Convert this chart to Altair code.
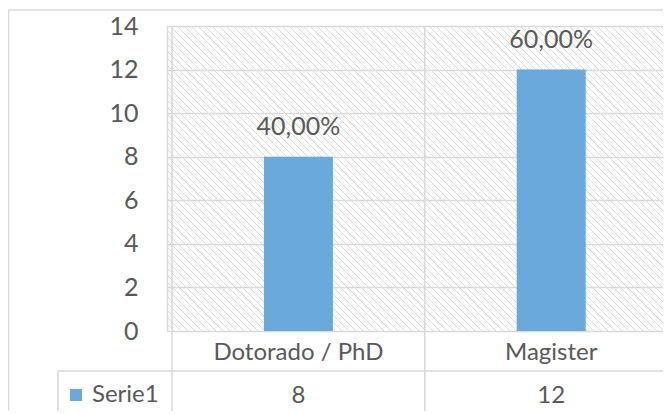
import altair as alt
import pandas as pd
import numpy as np

# ---- data ----
categories = ["Dotorado / PhD", "Magister"]
values = [8, 12]
pct_labels = ["40,00%", "60,00%"]
series_name = "Serie1"
y_ticks = [0, 2, 4, 6, 8, 10, 12, 14]

# ---- layout / style ----
W, H = 496, 305          # plot area
BAND = 258               # width of one category band in px
BOTTOM = 80              # room below the plot for the data table
GRID = "#d9d9d9"
TXT = "#595959"
FONT = "Lato"
BAR = "#69a9dc"
FS = 24

df = pd.DataFrame({
    "cat": categories,
    "value": values,
    "pct": pct_labels,
    "pos": [i + 0.5 for i in range(len(categories))],
    "serie": series_name,
})
bounds = pd.DataFrame({"b": list(range(len(categories)))})
one = pd.DataFrame({"k": [0]})

xs = alt.Scale(domain=[0, W / BAND])
ys = alt.Scale(domain=[0, 14])

# hatch background (decorative texture)
step = 7
cs = np.arange(-H, W + step, step)
hatch_df = pd.DataFrame({"x": cs, "x2": cs + H, "y": H, "y2": 0})
hatch = alt.Chart(hatch_df).mark_rule(color="#dcdcdc", strokeWidth=1, clip=True).encode(
    x=alt.X("x:Q", scale=alt.Scale(domain=[0, W]), axis=None),
    x2="x2:Q",
    y=alt.Y("y:Q", scale=alt.Scale(domain=[0, H]), axis=None),
    y2="y2:Q",
)

base = alt.Chart(df)

bars = base.mark_bar(width=69).encode(
    x=alt.X("pos:Q", scale=xs, axis=None),
    y=alt.Y("value:Q", scale=ys, axis=alt.Axis(
        values=y_ticks, grid=True, gridColor=GRID, gridWidth=1.5,
        domain=True, domainColor=GRID, domainWidth=1.5, ticks=False,
        labelPadding=29, labelFontSize=25, labelColor=TXT, labelFont=FONT,
        title=None)),
    color=alt.Color("serie:N", scale=alt.Scale(range=[BAR]), legend=alt.Legend(
        orient="none", legendX=-103, legendY=H + 52, title=None,
        symbolType="square", symbolSize=144, symbolStrokeWidth=0,
        labelFontSize=FS, labelColor=TXT, labelFont=FONT, padding=0)),
)

bar_labels = base.mark_text(dy=-30, fontSize=25, font=FONT, color=TXT, baseline="middle").encode(
    x=alt.X("pos:Q", scale=xs), y=alt.Y("value:Q", scale=ys), text="pct:N")

cat_labels = base.mark_text(fontSize=FS, font=FONT, color=TXT, baseline="middle").encode(
    x=alt.X("pos:Q", scale=xs), y=alt.value(H + 22), text="cat:N")

val_labels = base.mark_text(fontSize=FS, font=FONT, color=TXT, baseline="middle").encode(
    x=alt.X("pos:Q", scale=xs), y=alt.value(H + 65), text="value:Q")

vlines = alt.Chart(bounds).mark_rule(color=GRID, strokeWidth=1.5).encode(
    x=alt.X("b:Q", scale=xs), y=alt.value(0), y2=alt.value(H + BOTTOM))

ln = dict(color=GRID, strokeWidth=1.5)
table_h = alt.Chart(one).mark_rule(**ln).encode(
    x=alt.value(-109), x2=alt.value(W), y=alt.value(H + 40))
table_v = alt.Chart(one).mark_rule(**ln).encode(
    x=alt.value(-109), y=alt.value(H + 40), y2=alt.value(H + BOTTOM))
frame_top = alt.Chart(one).mark_rule(**ln).encode(
    x=alt.value(-158.5), x2=alt.value(W), y=alt.value(-16))
frame_left = alt.Chart(one).mark_rule(**ln).encode(
    x=alt.value(-158.5), y=alt.value(-16), y2=alt.value(H + BOTTOM))

main = alt.layer(bars, bar_labels, cat_labels, val_labels, vlines,
                 table_h, table_v, frame_top, frame_left)

chart = alt.layer(hatch, main).resolve_scale(x="independent", y="independent").properties(
    width=W, height=H,
    autosize=alt.AutoSizeParams(type="none"),
    padding={"left": 159, "top": 18, "right": 0, "bottom": BOTTOM},
).configure_view(strokeWidth=0)

chart.save("out.html", embed_options={"renderer": "svg", "actions": False})
